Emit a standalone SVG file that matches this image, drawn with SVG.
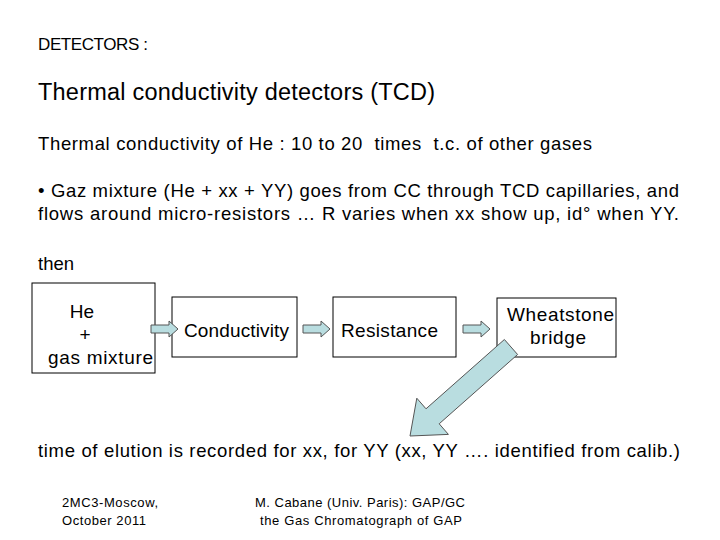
<svg xmlns="http://www.w3.org/2000/svg" width="720" height="540" viewBox="0 0 720 540">
<style>
text{font-family:"Liberation Sans",Arial,sans-serif;fill:#000}
.b{fill:#fff;stroke:#000;stroke-width:1}
.a{fill:#b9dde0;stroke:#555;stroke-width:1}
.t{font-size:18.5px}
.n{font-size:19px}
.f{font-size:13px}
</style>
<rect width="720" height="540" fill="#fff"/>
<text x="38" y="50" font-size="17" textLength="110" lengthAdjust="spacing">DETECTORS :</text>
<text x="38" y="100" font-size="23.5" textLength="397" lengthAdjust="spacing">Thermal conductivity detectors (TCD)</text>
<text x="38" y="150" class="t" xml:space="preserve" textLength="554" lengthAdjust="spacing">Thermal conductivity of He : 10 to 20  times  t.c. of other gases</text>
<text x="38" y="197" class="t" textLength="641" lengthAdjust="spacing">• Gaz mixture (He + xx + YY) goes from CC through TCD capillaries, and</text>
<text x="38" y="220" class="t" textLength="641" lengthAdjust="spacing">flows around micro-resistors … R varies when xx show up, id° when YY.</text>
<text x="38" y="270" class="t">then</text>
<g id="n1"><rect class="b" x="32" y="283" width="123" height="90"/>
<text class="n" x="82" y="318" text-anchor="middle">He</text>
<text class="n" x="85" y="341" text-anchor="middle">+</text>
<text class="n" x="48" y="364" textLength="105" lengthAdjust="spacing">gas mixture</text></g>
<g id="n2"><rect class="b" x="172" y="297" width="125" height="60"/>
<text class="n" x="184" y="337" textLength="105" lengthAdjust="spacing">Conductivity</text></g>
<g id="n3"><rect class="b" x="333" y="297" width="123" height="60"/>
<text class="n" x="341" y="337" textLength="97" lengthAdjust="spacing">Resistance</text></g>
<g id="n4"><rect class="b" x="497" y="298" width="119" height="59"/>
<text class="n" x="507" y="321" textLength="107" lengthAdjust="spacing">Wheatstone</text>
<text class="n" x="530" y="344" textLength="56" lengthAdjust="spacing">bridge</text></g>
<g id="connectors">
<polygon class="a" points="151,325 169,325 169,321 178,329 169,337 169,333 151,333"/>
<polygon class="a" points="303,325 321,325 321,321 330,329 321,337 321,333 303,333"/>
<polygon class="a" points="463,325 481,325 481,321 490,329 481,337 481,333 463,333"/>
<polygon class="a" points="517.6,354.5 439.2,423.8 448.4,434.4 410,436 416.8,398.2 426,408.8 504.4,339.5"/>
</g>
<text x="38" y="457" class="t" textLength="642" lengthAdjust="spacing">time of elution is recorded for xx, for YY (xx, YY …. identified from calib.)</text>
<text x="62" y="507" class="f" textLength="96" lengthAdjust="spacing">2MC3-Moscow,</text>
<text x="62" y="525" class="f" textLength="84" lengthAdjust="spacing">October 2011</text>
<text x="255" y="507" class="f" textLength="210" lengthAdjust="spacing">M. Cabane (Univ. Paris): GAP/GC</text>
<text x="260" y="525" class="f" textLength="202" lengthAdjust="spacing">the Gas Chromatograph of GAP</text>
</svg>
